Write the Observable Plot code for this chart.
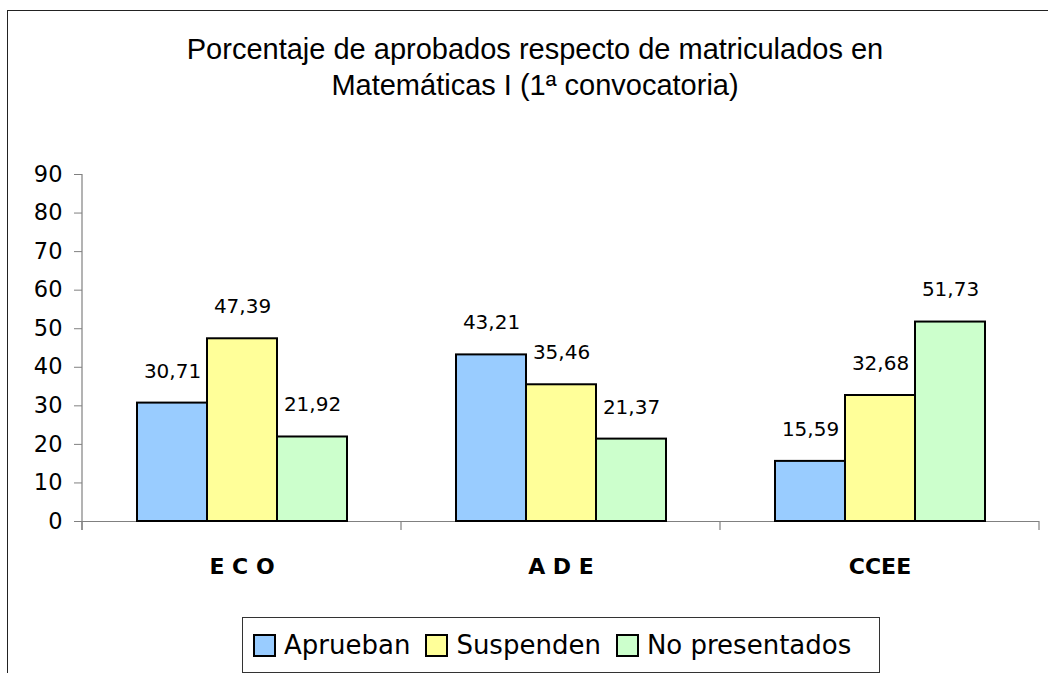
<!DOCTYPE html>
<html>
<head>
<meta charset="utf-8">
<script src="https://cdn.jsdelivr.net/npm/d3@7"></script>
<script src="https://cdn.jsdelivr.net/npm/@observablehq/plot@0.6"></script>
<style>
  html, body { margin: 0; padding: 0; background: #fff; }
  #wrap { position: relative; width: 1048px; height: 673px; overflow: hidden; background: #fff; }
  #frame { position: absolute; left: 7px; top: 10px; width: 1100px; height: 800px; border: 1.5px solid #222; box-sizing: border-box; }
  #chart { position: absolute; left: 0; top: 0; }
  #title { position: absolute; left: 0; width: 1070px; top: 31px; text-align: center;
           font-family: "Liberation Sans", Arial, sans-serif; font-size: 29px; line-height: 36px; color: #000; }
  #legend { position: absolute; left: 242px; top: 617px; width: 638px; height: 56px; box-sizing: border-box;
            border: 1.5px solid #333; background: #fff; display: flex; align-items: center; padding-left: 10px;
            font-family: "DejaVu Sans", sans-serif; font-size: 26px; color: #000; }
  .sw { width: 23px; height: 23px; box-sizing: border-box; border: 2.5px solid #000; margin-right: 8px; }
  .lab { margin-right: 15px; line-height: 1; }
</style>
</head>
<body>
<div id="wrap">
  <div id="frame"></div>
  <div id="chart"></div>
  <div id="title">Porcentaje de aprobados respecto de matriculados en<br>Matemáticas I (1ª convocatoria)</div>
  <div id="legend"></div>
</div>
<script>
const categories = ["E C O", "A D E", "CCEE"];
const series = ["Aprueban", "Suspenden", "No presentados"];
const colors = ["#99CCFF", "#FFFF99", "#CCFFCC"];
const aprueban = [30.71, 43.21, 15.59];
const suspenden = [47.39, 35.46, 32.68];
const noPresentados = [21.92, 21.37, 51.73];
const yTicks = [0, 10, 20, 30, 40, 50, 60, 70, 80, 90];

const valuesBySeries = [aprueban, suspenden, noPresentados];
const data = [];
categories.forEach((c, i) => {
  series.forEach((s, j) => {
    data.push({cat: c, series: s, value: valuesBySeries[j][i]});
  });
});

const fmt = v => v.toFixed(2).replace(".", ",");

const plot = Plot.plot({
  width: 1048,
  height: 673,
  marginLeft: 82,
  marginRight: 9,
  marginTop: 174,
  marginBottom: 152,
  style: {background: "transparent", overflow: "visible"},
  fx: {domain: categories, padding: 0},
  x: {domain: series, paddingInner: 0, paddingOuter: 0.75, axis: null},
  y: {domain: [0, 90], axis: null},
  color: {domain: series, range: colors},
  marks: [
    Plot.ruleY([0], {stroke: "#808080", strokeWidth: 1.2}),
    Plot.barY(data, {fx: "cat", x: "series", y: "value", fill: "series", stroke: "#000", strokeWidth: 2}),
    Plot.text(data, {fx: "cat", x: "series", y: "value", text: d => fmt(d.value), dy: -32,
      fontSize: 20, fontFamily: "DejaVu Sans", fill: "#000"}),
    Plot.axisY({ticks: yTicks, tickSize: 8, tickPadding: 12, fontSize: 22.5, fontFamily: "DejaVu Sans",
      stroke: "#808080", color: "#000", label: null}),
    Plot.axisFx({anchor: "bottom", tickSize: 0, tickPadding: 37, fontSize: 22, fontWeight: "bold",
      fontFamily: "DejaVu Sans", label: null})
  ]
});

document.getElementById("chart").appendChild(plot);

// Axis line and category separators drawn from the plot's own scales
const fx = plot.scale("fx");
const y = plot.scale("y");
const svg = d3.select(plot);
const y0 = y.apply(0);
const yTop = y.apply(90);
const starts = categories.map(c => fx.apply(c));
const bounds = [...starts, starts[starts.length - 1] + fx.bandwidth];
const g = svg.append("g").attr("stroke", "#808080").attr("stroke-width", 1.2);
g.append("line").attr("x1", bounds[0]).attr("x2", bounds[0]).attr("y1", yTop).attr("y2", y0 + 9);
bounds.forEach(b => {
  g.append("line").attr("x1", b).attr("x2", b).attr("y1", y0).attr("y2", y0 + 9);
});

// Legend
const legend = d3.select("#legend");
series.forEach((s, i) => {
  legend.append("div").attr("class", "sw").style("background", colors[i]);
  legend.append("div").attr("class", "lab").text(s);
});
</script>
</body>
</html>
